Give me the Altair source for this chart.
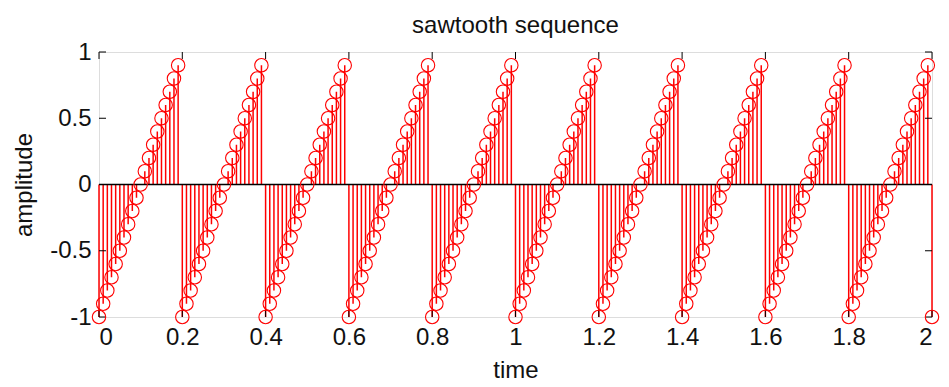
import altair as alt
import pandas as pd

# Sawtooth samples, one row per period (20 samples each, step 0.01 s), plus the final sample at t = 2
amplitude = [
    -1.0, -0.9, -0.8, -0.7, -0.6, -0.5, -0.4, -0.3, -0.2, -0.1, 0.0, 0.1, 0.2, 0.3, 0.4, 0.5, 0.6, 0.7, 0.8, 0.9,
    -1.0, -0.9, -0.8, -0.7, -0.6, -0.5, -0.4, -0.3, -0.2, -0.1, 0.0, 0.1, 0.2, 0.3, 0.4, 0.5, 0.6, 0.7, 0.8, 0.9,
    -1.0, -0.9, -0.8, -0.7, -0.6, -0.5, -0.4, -0.3, -0.2, -0.1, 0.0, 0.1, 0.2, 0.3, 0.4, 0.5, 0.6, 0.7, 0.8, 0.9,
    -1.0, -0.9, -0.8, -0.7, -0.6, -0.5, -0.4, -0.3, -0.2, -0.1, 0.0, 0.1, 0.2, 0.3, 0.4, 0.5, 0.6, 0.7, 0.8, 0.9,
    -1.0, -0.9, -0.8, -0.7, -0.6, -0.5, -0.4, -0.3, -0.2, -0.1, 0.0, 0.1, 0.2, 0.3, 0.4, 0.5, 0.6, 0.7, 0.8, 0.9,
    -1.0, -0.9, -0.8, -0.7, -0.6, -0.5, -0.4, -0.3, -0.2, -0.1, 0.0, 0.1, 0.2, 0.3, 0.4, 0.5, 0.6, 0.7, 0.8, 0.9,
    -1.0, -0.9, -0.8, -0.7, -0.6, -0.5, -0.4, -0.3, -0.2, -0.1, 0.0, 0.1, 0.2, 0.3, 0.4, 0.5, 0.6, 0.7, 0.8, 0.9,
    -1.0, -0.9, -0.8, -0.7, -0.6, -0.5, -0.4, -0.3, -0.2, -0.1, 0.0, 0.1, 0.2, 0.3, 0.4, 0.5, 0.6, 0.7, 0.8, 0.9,
    -1.0, -0.9, -0.8, -0.7, -0.6, -0.5, -0.4, -0.3, -0.2, -0.1, 0.0, 0.1, 0.2, 0.3, 0.4, 0.5, 0.6, 0.7, 0.8, 0.9,
    -1.0, -0.9, -0.8, -0.7, -0.6, -0.5, -0.4, -0.3, -0.2, -0.1, 0.0, 0.1, 0.2, 0.3, 0.4, 0.5, 0.6, 0.7, 0.8, 0.9,
    -1.0,
]
sample_interval = 0.01
time = [round(i * sample_interval, 2) for i in range(len(amplitude))]

x_ticks = [0, 0.2, 0.4, 0.6, 0.8, 1, 1.2, 1.4, 1.6, 1.8, 2]
y_ticks = [-1, -0.5, 0, 0.5, 1]
baseline = [0]

W, H = 833, 265
FONT = "Liberation Sans"
FS = 24
RED = "#ff0000"
INK = "#111111"

samples = pd.DataFrame({"time": time, "amplitude": amplitude, "base": 0.0})
xt = pd.DataFrame({"time": x_ticks})
yt = pd.DataFrame({"amplitude": y_ticks})
base_df = pd.DataFrame({"amplitude": baseline})

x_scale = alt.Scale(domain=[0, 2], nice=False, zero=False)
y_scale = alt.Scale(domain=[-1, 1], nice=False, zero=False)

x_axis = alt.Axis(
    values=x_ticks, labelExpr="'' + datum.value", tickSize=0, grid=False,
    domain=False, labelPadding=8, titlePadding=9,
    labelFontSize=FS, titleFontSize=FS, labelFont=FONT, titleFont=FONT,
    titleFontWeight="normal", labelColor=INK, titleColor=INK,
)
y_axis = alt.Axis(
    values=y_ticks, labelExpr="'' + datum.value", tickSize=0, grid=False,
    domain=False, labelPadding=8, titlePadding=13,
    labelFontSize=FS, titleFontSize=FS, labelFont=FONT, titleFont=FONT,
    titleFontWeight="normal", labelColor=INK, titleColor=INK,
)

# vertical stems from the zero level to each sample
stems = alt.Chart(samples).mark_rule(color=RED, strokeWidth=1.5).encode(
    x=alt.X("time:Q", scale=x_scale, axis=x_axis, title="time"),
    y=alt.Y("amplitude:Q", scale=y_scale, axis=y_axis, title="amplitude"),
    y2="base:Q",
)

zero_line = alt.Chart(base_df).mark_rule(color="black", strokeWidth=1.3).encode(
    y="amplitude:Q", x=alt.value(0), x2=alt.value(W),
)

# open circle at the top of each stem
markers = alt.Chart(samples).mark_point(
    shape="circle", filled=False, color=RED, size=180, strokeWidth=1.1, opacity=1,
).encode(x="time:Q", y="amplitude:Q")

# inward-pointing ticks on all four sides of the frame
TICK = 7
ticks_bottom = alt.Chart(xt).mark_rule(color="black", strokeWidth=1).encode(
    x="time:Q", y=alt.value(H), y2=alt.value(H - TICK))
ticks_top = alt.Chart(xt).mark_rule(color="black", strokeWidth=1).encode(
    x="time:Q", y=alt.value(0), y2=alt.value(TICK))
ticks_left = alt.Chart(yt).mark_rule(color="black", strokeWidth=1).encode(
    y="amplitude:Q", x=alt.value(0), x2=alt.value(TICK))
ticks_right = alt.Chart(yt).mark_rule(color="black", strokeWidth=1).encode(
    y="amplitude:Q", x=alt.value(W), x2=alt.value(W - TICK))

chart = alt.layer(
    stems, zero_line, ticks_bottom, ticks_top, ticks_left, ticks_right, markers
).properties(
    width=W, height=H,
    title=alt.TitleParams(
        "sawtooth sequence", fontSize=FS, font=FONT, fontWeight="normal",
        color=INK, anchor="middle", frame="group", offset=2,
    ),
    autosize=alt.AutoSizeParams(type="none"),
    padding={"left": 99, "top": 52, "right": 17, "bottom": 70},
).configure_view(
    stroke="black", strokeWidth=1.3,
).configure(background="white")

chart.save("out.html", embed_options={"renderer": "svg", "actions": False})
